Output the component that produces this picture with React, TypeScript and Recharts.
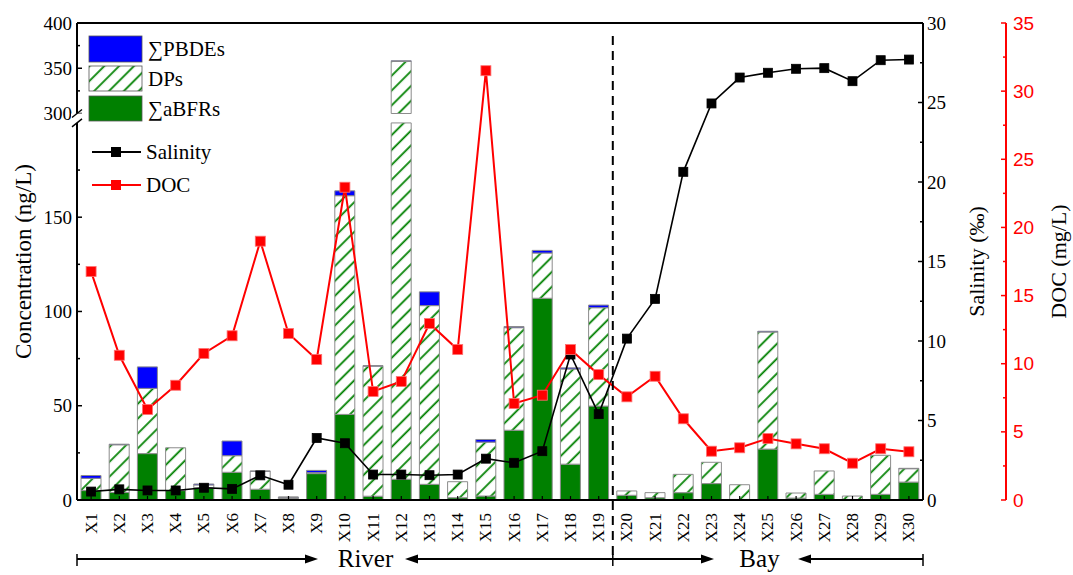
import React from "react";
import { ComposedChart, Bar, Line, XAxis, YAxis, ReferenceLine } from "recharts";

document.body.style.margin = "0";

const SERIF = "'Liberation Serif', 'Times New Roman', serif";
const SANS = "'Liberation Sans', Arial, sans-serif";

const sites = [
  "X1", "X2", "X3", "X4", "X5", "X6", "X7", "X8", "X9", "X10",
  "X11", "X12", "X13", "X14", "X15", "X16", "X17", "X18", "X19", "X20",
  "X21", "X22", "X23", "X24", "X25", "X26", "X27", "X28", "X29", "X30",
];
// ng/L
const abfrs = [
  5, 4, 24.6, 5, 6.5, 14.7, 5.7, 0.8, 14, 45.4,
  2, 11, 8.3, 1.2, 2.1, 37, 107, 19, 49.8, 2.5,
  1.2, 3.9, 8.7, 0.3, 27, 1, 3, 0.3, 3, 9.5,
];
const dps = [
  6.5, 25.3, 34.6, 22.7, 1.5, 8.8, 9.5, 0.6, 0.5, 116,
  69, 346.5, 94.8, 8.5, 28.6, 54.4, 24, 50.5, 52.2, 2.3,
  2.7, 9.7, 11.3, 7.8, 62.1, 2.7, 12.4, 1.8, 20.7, 7.1,
];
const pbdes = [
  1.5, 0.3, 11.4, 0, 0.5, 7.8, 0.2, 0.2, 1.2, 2.6,
  0.3, 0.8, 7.3, 0, 1.4, 0.6, 1.4, 0.6, 1.4, 0,
  0, 0, 0, 0, 0.4, 0, 0, 0, 0, 0.2,
];
// ‰
const salinity = [
  0.53, 0.67, 0.6, 0.6, 0.77, 0.7, 1.55, 0.96, 3.9, 3.57,
  1.6, 1.6, 1.56, 1.6, 2.6, 2.34, 3.07, 9.15, 5.4, 10.15,
  12.65, 20.64, 24.94, 26.57, 26.87, 27.12, 27.16, 26.34, 27.66, 27.7,
];
// mg/L
const doc = [
  16.76, 10.62, 6.64, 8.42, 10.75, 12.05, 18.99, 12.22, 10.31, 22.95,
  7.96, 8.69, 12.95, 11.04, 31.5, 7.08, 7.69, 11.04, 9.2, 7.57,
  9.08, 5.96, 3.58, 3.83, 4.51, 4.12, 3.76, 2.7, 3.76, 3.54,
];

const concTicks = [0, 25, 50, 75, 100, 125, 150, 175, 300, 325, 350, 375, 400];
const salTicks = [0, 2.5, 5, 7.5, 10, 12.5, 15, 17.5, 20, 22.5, 25, 27.5, 30];
const docTicks = [0, 2.5, 5, 7.5, 10, 12.5, 15, 17.5, 20, 22.5, 25, 27.5, 30, 32.5, 35];

// broken left axis: 0-200 linear, gap, then 300-400 compressed
const BREAK_LO = 200;
const BREAK_HI = 300;
const GAP = 5;
const UPPER = 0.48;
const AXIS_MAX = BREAK_LO + GAP + (400 - BREAK_HI) * UPPER;
const toAxis = (v: number) => (v <= BREAK_LO ? v : BREAK_LO + GAP + (v - BREAK_HI) * UPPER);
const fromAxis = (d: number) => (d <= BREAK_LO ? d : BREAK_HI + (d - BREAK_LO - GAP) / UPPER);

const rows = sites.map((name, i) => {
  const a = abfrs[i];
  const ad = a + dps[i];
  const all = ad + pbdes[i];
  const broken = ad > BREAK_HI;
  return {
    name,
    aBFRs: toAxis(a),
    dpLow: (broken ? BREAK_LO : toAxis(ad)) - toAxis(a),
    gap: broken ? GAP : 0,
    dpHigh: broken ? toAxis(ad) - (BREAK_LO + GAP) : 0,
    PBDEs: toAxis(all) - toAxis(ad),
    salinity: salinity[i],
    doc: doc[i],
  };
});

// layout
const W = 1073;
const H = 575;
const TOP = 23;
const LEFT_W = 77;
const SAL_W = 83;
const DOC_W = 67;
const XAXIS_H = 75;
const PLOT_L = LEFT_W;
const PLOT_R = W - SAL_W - DOC_W;
const PLOT_B = H - XAXIS_H;
const BAND = (PLOT_R - PLOT_L) / sites.length;
const yPx = (d: number) => PLOT_B - (d / AXIS_MAX) * (PLOT_B - TOP);

const LeftTick = (props: any) => {
  const { x, y, payload } = props;
  const v = Math.round(fromAxis(payload.value));
  const major = v % 50 === 0;
  return (
    <g>
      <line x1={x} x2={x + (major ? 5 : 3)} y1={y} y2={y} stroke="#000" strokeWidth={1.5} />
      {major && (
        <text x={x - 5} y={y} textAnchor="end" dominantBaseline="central" fontSize={19} fontFamily={SERIF} fill="#000">
          {v}
        </text>
      )}
    </g>
  );
};

const RightTick = (color: string, font: string, dx: number) => (props: any) => {
  const { x, y, payload } = props;
  const v = payload.value;
  const major = v % 5 === 0;
  return (
    <g>
      <line x1={x} x2={x - (major ? 5 : 3)} y1={y} y2={y} stroke={color} strokeWidth={1.5} />
      {major && (
        <text x={x + dx} y={y} textAnchor="start" dominantBaseline="central" fontSize={19} fontFamily={font} fill={color}>
          {v}
        </text>
      )}
    </g>
  );
};
const SalTick = RightTick("#000", SERIF, 4);
const DocTick = RightTick("#ff0000", SANS, 7);

const SiteTick = (props: any) => {
  const { x, y, payload } = props;
  return (
    <g>
      <line x1={x} x2={x} y1={y} y2={y - 4} stroke="#000" strokeWidth={1.2} />
      <text
        transform={`translate(${x},${y + 13}) rotate(-90)`}
        textAnchor="end"
        dominantBaseline="central"
        fontSize={17}
        fontFamily={SERIF}
        fill="#000"
      >
        {payload.value}
      </text>
    </g>
  );
};

const square = (fill: string, stroke: string, size: number) => (p: any) => (
  <rect key={p.index} x={p.cx - size / 2} y={p.cy - size / 2} width={size} height={size} fill={fill} stroke={stroke} strokeWidth={0.8} />
);

const Arrow = ({ from, to, y }: { from: number; to: number; y: number }) => {
  const dir = to > from ? 1 : -1;
  return (
    <g>
      <line x1={from} x2={to - dir * 10} y1={y} y2={y} stroke="#000" strokeWidth={2} />
      <polygon points={`${to},${y} ${to - dir * 13},${y - 4.5} ${to - dir * 13},${y + 4.5}`} fill="#000" />
    </g>
  );
};

export default function App() {
  const divX = PLOT_L + 19 * BAND;
  const arrowY = 559;
  const yLo = yPx(BREAK_LO);
  const yHi = yPx(BREAK_LO + GAP);
  return (
    <div style={{ position: "relative", width: W, height: H, background: "#fff" }}>
      <ComposedChart width={W} height={H} data={rows} margin={{ top: TOP, right: 0, bottom: 0, left: 0 }}>
        <defs>
          <pattern id="hatch" patternUnits="userSpaceOnUse" width={10.5} height={10.5} patternTransform="rotate(45)">
            <rect width={10.5} height={10.5} fill="#fff" />
            <line x1={5} y1={0} x2={5} y2={10.5} stroke="#008000" strokeWidth={1.8} />
          </pattern>
        </defs>
        <XAxis
          dataKey="name"
          interval={0}
          height={XAXIS_H}
          tickSize={0}
          tickMargin={0}
          tick={<SiteTick />}
          axisLine={{ stroke: "#000", strokeWidth: 2 }}
        />
        <YAxis
          yAxisId="left"
          orientation="left"
          width={LEFT_W}
          domain={[0, AXIS_MAX]}
          ticks={concTicks.map(toAxis)}
          interval={0}
          tickSize={0}
          tickMargin={0}
          tick={<LeftTick />}
          axisLine={{ stroke: "#000", strokeWidth: 2 }}
          label={{
            value: "Concentration (ng/L)",
            angle: -90,
            position: "insideLeft",
            offset: 23,
            style: { textAnchor: "middle", fontSize: 23, fontFamily: SERIF, fill: "#000" },
          }}
        />
        {/* right axes are stacked by id: r1 next to the plot, r2 outside */}
        <YAxis
          yAxisId="r1sal"
          orientation="right"
          width={SAL_W}
          domain={[0, 30]}
          ticks={salTicks}
          interval={0}
          tickSize={0}
          tickMargin={0}
          tick={<SalTick />}
          axisLine={{ stroke: "#000", strokeWidth: 2 }}
          label={{
            value: "Salinity (‰)",
            angle: -90,
            position: "insideLeft",
            offset: 53,
            style: { textAnchor: "middle", fontSize: 22, fontFamily: SERIF, fill: "#000" },
          }}
        />
        <YAxis
          yAxisId="r2doc"
          orientation="right"
          width={DOC_W}
          domain={[0, 35]}
          ticks={docTicks}
          interval={0}
          tickSize={0}
          tickMargin={0}
          tick={<DocTick />}
          axisLine={{ stroke: "#ff0000", strokeWidth: 2 }}
          label={{
            value: "DOC (mg/L)",
            angle: -90,
            position: "insideLeft",
            offset: 52,
            style: { textAnchor: "middle", fontSize: 22, fontFamily: SERIF, fill: "#000" },
          }}
        />
        <ReferenceLine yAxisId="left" y={AXIS_MAX} stroke="#000" strokeWidth={2} />
        <Bar dataKey="aBFRs" yAxisId="left" stackId="c" barSize={20} fill="#008000" stroke="#8c8c8c" strokeWidth={1} isAnimationActive={false} />
        <Bar dataKey="dpLow" yAxisId="left" stackId="c" barSize={20} fill="url(#hatch)" stroke="#8c8c8c" strokeWidth={1} isAnimationActive={false} />
        <Bar dataKey="gap" yAxisId="left" stackId="c" barSize={20} fill="none" stroke="none" isAnimationActive={false} />
        <Bar dataKey="dpHigh" yAxisId="left" stackId="c" barSize={20} fill="url(#hatch)" stroke="#8c8c8c" strokeWidth={1} isAnimationActive={false} />
        <Bar dataKey="PBDEs" yAxisId="left" stackId="c" barSize={20} fill="#0000ff" stroke="#8c8c8c" strokeWidth={1} isAnimationActive={false} />
        <Line
          dataKey="salinity"
          yAxisId="r1sal"
          stroke="#000"
          strokeWidth={1.6}
          dot={square("#000", "#000", 9)}
          activeDot={false}
          isAnimationActive={false}
        />
        <Line
          dataKey="doc"
          yAxisId="r2doc"
          stroke="#ff0000"
          strokeWidth={2}
          dot={square("#ff0000", "#ff7070", 10)}
          activeDot={false}
          isAnimationActive={false}
        />
      </ComposedChart>

      <svg width={W} height={H} style={{ position: "absolute", left: 0, top: 0, pointerEvents: "none" }}>
        <defs>
          <pattern id="hatchLegend" patternUnits="userSpaceOnUse" width={10.5} height={10.5} patternTransform="rotate(45)">
            <rect width={10.5} height={10.5} fill="#fff" />
            <line x1={5} y1={0} x2={5} y2={10.5} stroke="#008000" strokeWidth={1.8} />
          </pattern>
        </defs>
        {/* axis break */}
        <rect x={PLOT_L - 6} y={yHi} width={12} height={yLo - yHi} fill="#fff" />
        <line x1={PLOT_L - 5} y1={yHi + 4} x2={PLOT_L + 5} y2={yHi - 4} stroke="#000" strokeWidth={1.5} />
        <line x1={PLOT_L - 5} y1={yLo + 4} x2={PLOT_L + 5} y2={yLo - 4} stroke="#000" strokeWidth={1.5} />

        {/* river / bay divider */}
        <line x1={divX} x2={divX} y1={36} y2={arrowY - 4} stroke="#000" strokeWidth={2} strokeDasharray="9 6" />

        {/* legend */}
        <rect x={89} y={36} width={53} height={26} fill="#0000ff" stroke="#555" strokeWidth={0.8} />
        <rect x={89} y={66} width={53} height={25} fill="url(#hatchLegend)" stroke="#555" strokeWidth={0.8} />
        <rect x={89} y={96} width={53} height={25} fill="#008000" stroke="#555" strokeWidth={0.8} />
        <g fontFamily={SERIF} fontSize={21} fill="#000">
          <text x={148} y={49} dominantBaseline="central">∑PBDEs</text>
          <text x={148} y={79} dominantBaseline="central">DPs</text>
          <text x={148} y={109} dominantBaseline="central">∑aBFRs</text>
          <text x={146} y={152} dominantBaseline="central">Salinity</text>
          <text x={146} y={185} dominantBaseline="central">DOC</text>
        </g>
        <line x1={92} x2={141} y1={152} y2={152} stroke="#000" strokeWidth={2} />
        <rect x={111} y={147} width={10} height={10} fill="#000" />
        <line x1={92} x2={141} y1={185} y2={185} stroke="#ff0000" strokeWidth={2} />
        <rect x={111} y={180} width={10} height={10} fill="#ff0000" />

        {/* River / Bay arrows */}
        {[PLOT_L, divX, PLOT_R].map((x) => (
          <line key={x} x1={x} x2={x} y1={arrowY - 5} y2={arrowY + 7} stroke="#000" strokeWidth={1.5} />
        ))}
        <Arrow from={PLOT_L} to={318} y={arrowY} />
        <Arrow from={divX} to={405} y={arrowY} />
        <Arrow from={divX} to={714} y={arrowY} />
        <Arrow from={PLOT_R} to={798} y={arrowY} />
        <text x={365.5} y={567} textAnchor="middle" fontFamily={SERIF} fontSize={25} fill="#000">River</text>
        <text x={759.5} y={567} textAnchor="middle" fontFamily={SERIF} fontSize={25} fill="#000">Bay</text>
      </svg>
    </div>
  );
}
